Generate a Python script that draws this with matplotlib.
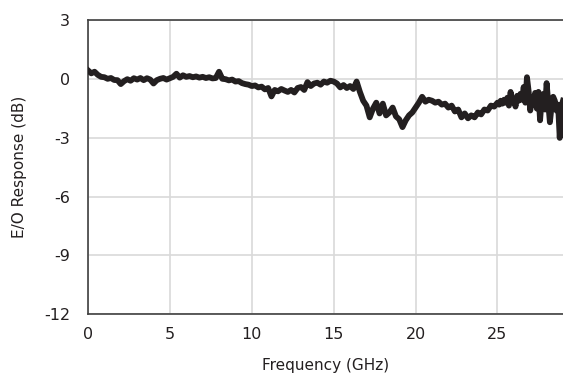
import numpy as np
import matplotlib
matplotlib.use('Agg')
import matplotlib.pyplot as plt

plt.rcParams['font.family'] = ['DejaVu Sans']
plt.rcParams['axes.unicode_minus'] = False

# E/O response, 0.2 GHz steps up to 25 GHz
freq_lo = np.round(np.arange(0, 25.01, 0.2), 2)
resp_lo = [0.45, 0.30, 0.38, 0.22, 0.12, 0.10, 0.02, 0.06, -0.04, -0.05,
           -0.25, -0.10, 0.00, -0.08, 0.05, -0.02, 0.06, -0.05, 0.05, -0.02,
           -0.22, -0.05, 0.02, 0.06, -0.02, 0.05, 0.12, 0.28, 0.08, 0.20,
           0.12, 0.16, 0.10, 0.14, 0.08, 0.12, 0.06, 0.10, 0.04, 0.06,
           0.38, 0.02, 0.00, -0.06, -0.02, -0.12, -0.10, -0.20, -0.25, -0.28,
           -0.35, -0.32, -0.42, -0.38, -0.52, -0.45, -0.88, -0.55, -0.62, -0.50,
           -0.58, -0.65, -0.55, -0.68, -0.45, -0.40, -0.55, -0.15, -0.35, -0.22,
           -0.18, -0.28, -0.12, -0.18, -0.08, -0.12, -0.22, -0.42, -0.30, -0.45,
           -0.35, -0.50, -0.12, -0.65, -1.10, -1.35, -1.95, -1.50, -1.20, -1.75,
           -1.25, -1.85, -1.70, -1.45, -1.90, -2.05, -2.45, -2.10, -1.85, -1.70,
           -1.45, -1.20, -0.90, -1.15, -1.05, -1.10, -1.20, -1.15, -1.30, -1.25,
           -1.45, -1.35, -1.65, -1.55, -1.95, -1.75, -2.00, -1.85, -1.95, -1.70,
           -1.80, -1.55, -1.60, -1.35, -1.40, -1.20]

# noisier tail, 0.1 GHz steps
freq_hi = np.round(np.arange(25.1, 29.01, 0.1), 2)
resp_hi = [-1.30, -1.10, -1.25, -1.05, -1.20, -0.95, -1.35, -0.65, -1.15, -1.00,
           -1.40, -0.85, -1.10, -0.75, -1.05, -0.40, -1.20, 0.10, -0.60, -1.60,
           -0.90, -1.30, -0.70, -1.50, -0.65, -2.10, -1.00, -0.75, -1.55, -0.20,
           -1.20, -2.20, -1.40, -0.90, -1.10, -1.60, -1.30, -3.00, -1.40, -1.10]

freq = np.concatenate([freq_lo, freq_hi])
resp = np.array(resp_lo + resp_hi)

xticks = [0, 5, 10, 15, 20, 25]
yticks = [-12, -9, -6, -3, 0, 3]

fig = plt.figure(figsize=(5.63, 3.78), dpi=100)
ax = fig.add_axes([0.1563, 0.1693, 0.8437, 0.7765])

ax.plot(freq, resp, color='#231f20', lw=4.2, solid_joinstyle='round', zorder=3)

ax.set_xlim(0, 29)
ax.set_ylim(-12, 3)
ax.set_xticks(xticks)
ax.set_yticks(yticks)
ax.grid(True, color='#d9d9d9', lw=1.2)
ax.set_axisbelow(True)
ax.tick_params(length=0, labelsize=11.5, colors='#231f20')
ax.tick_params(axis='x', pad=9)
ax.tick_params(axis='y', pad=13)
for s in ['left', 'bottom', 'top']:
    ax.spines[s].set_color('#404040')
    ax.spines[s].set_linewidth(1.2)
ax.spines['right'].set_visible(False)

ax.set_xlabel('Frequency (GHz)', fontsize=11, color='#231f20', labelpad=12)
ax.set_ylabel('E/O Response (dB)', fontsize=11, color='#231f20', labelpad=12)

fig.savefig('out.png', dpi=100)
